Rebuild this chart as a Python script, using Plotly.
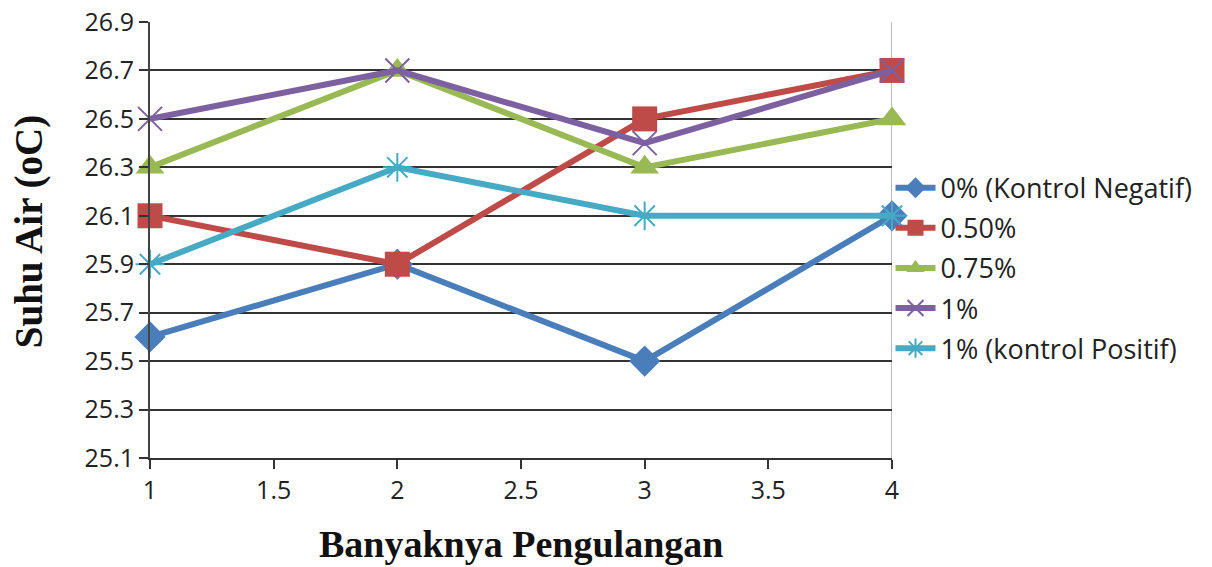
import plotly.graph_objects as go

# Repetition number on the x axis
pengulangan = [1, 2, 3, 4]

# Water temperature (°C) per treatment
seri_nama = ["0% (Kontrol Negatif)", "0.50%", "0.75%", "1%", "1% (kontrol Positif)"]
suhu_0 = [25.6, 25.9, 25.5, 26.1]
suhu_050 = [26.1, 25.9, 26.5, 26.7]
suhu_075 = [26.3, 26.7, 26.3, 26.5]
suhu_1 = [26.5, 26.7, 26.4, 26.7]
suhu_1_pos = [25.9, 26.3, 26.1, 26.1]

y_ticks = [25.1, 25.3, 25.5, 25.7, 25.9, 26.1, 26.3, 26.5, 26.7, 26.9]
x_ticks = [1, 1.5, 2, 2.5, 3, 3.5, 4]

styles = [
    dict(color="#4A7EBB", symbol="diamond", size=24),
    dict(color="#BE4B48", symbol="square", size=25),
    dict(color="#98B954", symbol="triangle-up", size=25),
    dict(color="#7D60A0", symbol="x-thin", size=24),
    dict(color="#46AAC5", symbol="asterisk", size=24),
]
series = [suhu_0, suhu_050, suhu_075, suhu_1, suhu_1_pos]

fig = go.Figure()
for i, (name, vals, st) in enumerate(zip(seri_nama, series, styles)):
    marker = dict(symbol=st["symbol"], size=st["size"], color=st["color"])
    if st["symbol"] in ("x-thin", "asterisk"):
        marker["line"] = dict(color=st["color"], width=2)
    fig.add_trace(go.Scatter(
        x=pengulangan, y=vals, name=name, mode="lines+markers",
        line=dict(color=st["color"], width=6),
        marker=marker, legendgroup=f"g{i}", cliponaxis=False,
    ))

axis_font = dict(family="Open Sans, sans-serif", size=25, color="#222")
fig.update_layout(
    width=1212, height=567,
    margin=dict(l=150, r=320, t=22, b=109),
    plot_bgcolor="white", paper_bgcolor="white",
    showlegend=True,
    legend=dict(
        x=0.998, y=0.675, xanchor="left", yanchor="top",
        bgcolor="rgba(0,0,0,0)",
        font=dict(family="Open Sans, sans-serif", size=27, color="#222"),
        tracegroupgap=2, traceorder="grouped",
        itemwidth=40,
    ),
    xaxis=dict(
        range=[1, 4], tickvals=x_ticks, ticktext=[f"{v:g}" for v in x_ticks],
        showgrid=False, zeroline=False, automargin=False,
        showline=True, linecolor="#333", linewidth=2,
        ticks="outside", ticklen=9, tickwidth=2, tickcolor="#333",
        tickfont=axis_font,
    ),
    yaxis=dict(
        range=[25.1, 26.9], tickvals=y_ticks, ticktext=[f"{v:.1f}" for v in y_ticks],
        showgrid=True, gridcolor="#333", gridwidth=2, zeroline=False, automargin=False,
        showline=True, linecolor="#444", linewidth=2,
        ticks="outside", ticklen=9, tickwidth=2, tickcolor="#333",
        tickfont=axis_font,
    ),
    shapes=[dict(type="line", xref="x", yref="paper", x0=4, x1=4, y0=0, y1=1,
                 line=dict(color="#BBBBBB", width=2), layer="below")],
    annotations=[
        dict(text="<b>Suhu Air (oC)</b>", xref="paper", yref="paper",
             x=-0.163, y=0.518, xanchor="center", yanchor="middle",
             textangle=-90, showarrow=False,
             font=dict(family="Liberation Serif, Times New Roman, serif", size=39, color="#111")),
        dict(text="<b>Banyaknya Pengulangan</b>", xref="paper", yref="paper",
             x=0.5, y=-0.249, yanchor="bottom", showarrow=False,
             font=dict(family="Liberation Serif, Times New Roman, serif", size=38, color="#111")),
    ],
)

fig.write_html("out.html")
